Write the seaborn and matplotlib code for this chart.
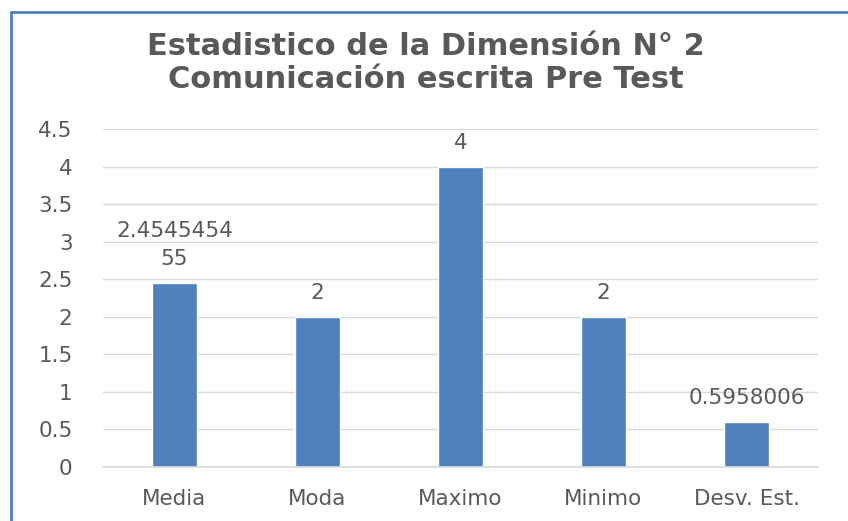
import matplotlib
matplotlib.use("Agg")
import matplotlib.pyplot as plt
import seaborn as sns
import pandas as pd
from matplotlib.lines import Line2D

categories = ["Media", "Moda", "Maximo", "Minimo", "Desv. Est."]
values = [2.454545455, 2, 4, 2, 0.5958006]
labels = ["2.4545454\n55", "2", "4", "2", "0.5958006"]
yticks = [0, 0.5, 1, 1.5, 2, 2.5, 3, 3.5, 4, 4.5]
title = "Estadistico de la Dimensión N° 2\nComunicación escrita Pre Test"

sns.set_theme(style="white")
plt.rcParams['font.family'] = ['DejaVu Sans']

df = pd.DataFrame({"cat": categories, "val": values})

fig = plt.figure(figsize=(8.48, 5.21), dpi=100)
ax = fig.add_axes([103/848, 1-467/521, 715/848, (467-129)/521])
sns.barplot(data=df, x="cat", y="val", color="#4F81BD", saturation=1, width=0.31, ax=ax)

ax.set_ylim(0, 4.5)
ax.set_yticks(yticks)
ax.set_yticklabels([f"{t:g}" for t in yticks])
ax.yaxis.grid(True, color="#D9D9D9", linewidth=1)
ax.set_axisbelow(True)
for s in ["top", "right", "left"]:
    ax.spines[s].set_visible(False)
ax.spines["bottom"].set_color("#D9D9D9")
ax.set_xlabel("")
ax.set_ylabel("")
ax.tick_params(axis="both", length=0, colors="#595959", labelsize=15.5)
ax.tick_params(axis="y", pad=22)
ax.tick_params(axis="x", pad=16)

for p, lab in zip(ax.patches, labels):
    x = p.get_x() + p.get_width() / 2
    h = p.get_height()
    ax.annotate(lab, (x, h), xytext=(0, 10), textcoords="offset points",
                ha="center", va="bottom", fontsize=15.5, color="#595959",
                linespacing=1.5)

fig.text(426/848, 1-63/521, title, ha="center", va="center", fontsize=22,
         fontweight="bold", color="#595959", linespacing=1.2)

border = "#4F81BD"
fig.add_artist(Line2D([11/848, 1], [1-12/521, 1-12/521], color=border, linewidth=2,
                      transform=fig.transFigure))
fig.add_artist(Line2D([11/848, 11/848], [1-12/521, 0], color=border, linewidth=2,
                      transform=fig.transFigure))

fig.savefig("out.png", dpi=100)
